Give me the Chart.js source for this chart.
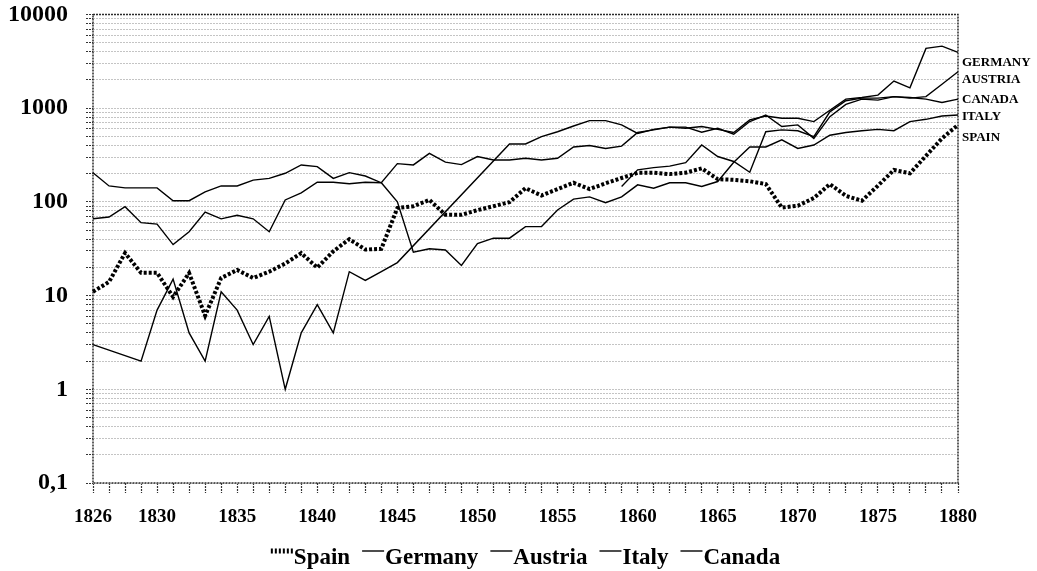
<!DOCTYPE html>
<html>
<head>
<meta charset="utf-8">
<title>Patents 1826-1880</title>
<script src="https://cdn.jsdelivr.net/npm/chart.js@4.4.1/dist/chart.umd.min.js"></script>
<style>
  html, body { margin: 0; padding: 0; background: #fff; }
  #wrap { width: 1037px; height: 571px; }
</style>
</head>
<body>
<div id="wrap"><canvas id="chart"></canvas></div>
<script>
// years on the x axis
const years = [1826, 1827, 1828, 1829, 1830, 1831, 1832, 1833, 1834, 1835,
  1836, 1837, 1838, 1839, 1840, 1841, 1842, 1843, 1844, 1845,
  1846, 1847, 1848, 1849, 1850, 1851, 1852, 1853, 1854, 1855,
  1856, 1857, 1858, 1859, 1860, 1861, 1862, 1863, 1864, 1865,
  1866, 1867, 1868, 1869, 1870, 1871, 1872, 1873, 1874, 1875,
  1876, 1877, 1878, 1879, 1880];
const yearLabels = [1826, 1830, 1835, 1840, 1845, 1850, 1855, 1860, 1865, 1870, 1875, 1880];

// log axis: a gridline at every 1..9 step, text only on the decades
const gridValues = [0.1, 0.2, 0.3, 0.4, 0.5, 0.6, 0.7, 0.8, 0.9,
  1, 2, 3, 4, 5, 6, 7, 8, 9,
  10, 20, 30, 40, 50, 60, 70, 80, 90,
  100, 200, 300, 400, 500, 600, 700, 800, 900,
  1000, 2000, 3000, 4000, 5000, 6000, 7000, 8000, 9000, 10000];
const decadeValues = [0.1, 1, 10, 100, 1000, 10000];
const decadeLabels = ['0,1', '1', '10', '100', '1000', '10000'];

const spain = [11, 14, 28.5, 17.5, 17.5, 9.7, 17.4, 6.1, 15.4, 18.8,
  15.4, 18, 22, 28.4, 19.9, 29.7, 40, 31, 31.6, 86,
  90, 105, 72.8, 72.8, 81.6, 90, 99.5, 140, 117, 137,
  160, 137, 158, 180, 204, 205, 198, 205, 228, 175,
  172, 166, 155, 87, 91, 110, 155, 116, 103, 149,
  219, 202, 310, 476, 663];
const germany = [205, 148, 141, 141, 141, 103, 103, 128, 148, 148,
  171, 178, 202, 248, 238, 178, 205, 189, 160, 256,
  248, 330, 266, 250, 305, 280, 280, 292, 280, 292,
  385, 400, 372, 394, 550, 587, 628, 610, 637, 594,
  550, 750, 826, 780, 780, 720, 950, 1250, 1300, 1380,
  1950, 1650, 4350, 4600, 3950];
const austria = [null, null, null, null, null, null, null, null, null, null,
  null, null, null, null, null, null, null, null, null, null,
  null, null, null, null, null, null, null, null, null, null,
  null, null, null, 146, 220, 232, 241, 262, 405, 305,
  270, 207, 561, 587, 575, 498, 915, 1200, 1280, 1280,
  1330, 1280, 1330, 1800, 2450];
const italy = [66, 69, 89, 60, 58, 35, 48, 78, 66, 72,
  66, 48, 105, 125, 162, 162, 156, 162, 160, 100,
  29, 31.6, 30.7, 21, 36, 41, 41, 54.5, 54.5, 82,
  107, 113, 98, 113, 152, 140, 160, 160, 146, 165,
  265, 386, 386, 459, 372, 405, 515, 550, 575, 594,
  575, 720, 761, 826, 845];
// no figures for 1827-28 and 1846-51, the line just jumps the gap
const canada = [3, null, null, 2, 7, 15, 4, 2, 11, 7,
  3, 6, 1, 4, 8, 4, 18, 14.5, 18, 22.5,
  null, null, null, null, null, null, 415, 415, 497, 561,
  646, 736, 736, 663, 538, 594, 628, 628, 555, 610,
  527, 720, 845, 637, 663, 476, 812, 1100, 1250, 1220,
  1330, 1300, 1250, 1150, 1250];

const sideNames = ['GERMANY', 'AUSTRIA', 'CANADA', 'ITALY', 'SPAIN'];

const SERIF = "'Liberation Serif', 'Times New Roman', serif";

function lineSet(label, data, dotted) {
  return {
    label: label,
    data: data,
    borderColor: '#000',
    backgroundColor: '#000',
    borderWidth: dotted ? 4 : 1.4,
    borderDash: dotted ? [3, 2] : [],
    borderCapStyle: 'butt',
    pointRadius: 0,
    pointHoverRadius: 0,
    tension: 0,
    spanGaps: true,
    fill: false
  };
}

// dotted frame, names at the right edge and the legend row underneath
const decorations = {
  id: 'decorations',
  beforeDatasetsDraw(chart) {
    const ctx = chart.ctx, a = chart.chartArea;
    ctx.save();
    ctx.strokeStyle = '#2b2b2b';
    ctx.lineWidth = 1.5;
    ctx.setLineDash([2, 1]);
    ctx.strokeRect(a.left, a.top, a.right - a.left, a.bottom - a.top);
    ctx.restore();
  },
  afterDraw(chart) {
    const ctx = chart.ctx, a = chart.chartArea;
    ctx.save();
    ctx.fillStyle = '#000';
    ctx.font = 'bold 13px ' + SERIF;
    ctx.textBaseline = 'middle';
    ctx.textAlign = 'left';
    const sideY = [48, 65, 85, 102, 123];
    sideNames.forEach((n, i) => ctx.fillText(n, a.right + 4, a.top + sideY[i]));

    // legend
    ctx.font = 'bold 23px ' + SERIF;
    const sample = 22, gap = 12;
    const sets = chart.data.datasets;
    let total = 0;
    sets.forEach(ds => { total += sample + 1 + ctx.measureText(ds.label).width; });
    total += gap * (sets.length - 1);
    let x = (a.left + a.right) / 2 - total / 2;
    const ty = 558, ly = 551;
    sets.forEach(ds => {
      ctx.save();
      ctx.strokeStyle = '#000';
      ctx.lineWidth = ds.borderDash.length ? 5 : 1.4;
      ctx.setLineDash(ds.borderDash.length ? [2, 2] : []);
      ctx.beginPath();
      ctx.moveTo(x, ly);
      ctx.lineTo(x + sample, ly);
      ctx.stroke();
      ctx.restore();
      x += sample + 1;
      ctx.fillText(ds.label, x, ty);
      x += ctx.measureText(ds.label).width + gap;
    });
    ctx.restore();
  }
};

new Chart(document.getElementById('chart'), {
  type: 'line',
  data: {
    labels: years,
    datasets: [
      lineSet('Spain', spain, true),
      lineSet('Germany', germany, false),
      lineSet('Austria', austria, false),
      lineSet('Italy', italy, false),
      lineSet('Canada', canada, false)
    ]
  },
  options: {
    responsive: true,
    maintainAspectRatio: false,
    animation: false,
    devicePixelRatio: 1,
    layout: { padding: { left: 0, top: 0, right: 79, bottom: 0 } },
    plugins: {
      legend: { display: false },
      tooltip: { enabled: false }
    },
    scales: {
      x: {
        type: 'category',
        offset: false,
        border: { display: false },
        grid: {
          display: true,
          drawOnChartArea: false,
          drawTicks: true,
          tickLength: 10,
          tickColor: '#333',
          tickWidth: 1.2,
          tickBorderDash: [2, 1]
        },
        ticks: {
          autoSkip: false,
          maxRotation: 0,
          minRotation: 0,
          padding: 13,
          color: '#000',
          font: { family: SERIF, weight: 'bold', size: 19 },
          callback: function (val, i) {
            return yearLabels.includes(years[i]) ? String(years[i]) : '';
          }
        },
        afterFit: function (s) { s.height = 88; }
      },
      y: {
        type: 'logarithmic',
        min: 0.1,
        max: 10000,
        border: { display: false, dash: [2, 1] },
        grid: {
          color: '#c4c4c4',
          lineWidth: 1,
          drawTicks: true,
          tickLength: 7,
          tickColor: '#333',
          tickWidth: 1.2,
          tickBorderDash: [2, 1]
        },
        afterBuildTicks: function (s) {
          s.ticks = gridValues.map(v => ({ value: v }));
        },
        ticks: {
          autoSkip: false,
          padding: 18,
          color: '#000',
          font: { family: SERIF, weight: 'bold', size: 24 },
          callback: function (val) {
            const k = decadeValues.findIndex(d => Math.abs(d - val) < d * 1e-6);
            return k >= 0 ? decadeLabels[k] : '';
          }
        },
        afterFit: function (s) {
          s.width = 93;
          // only half a label of room above the top decade
          s.paddingTop = 14.5;
          s.paddingBottom = 14.5;
        }
      }
    }
  },
  plugins: [decorations]
});
</script>
</body>
</html>
